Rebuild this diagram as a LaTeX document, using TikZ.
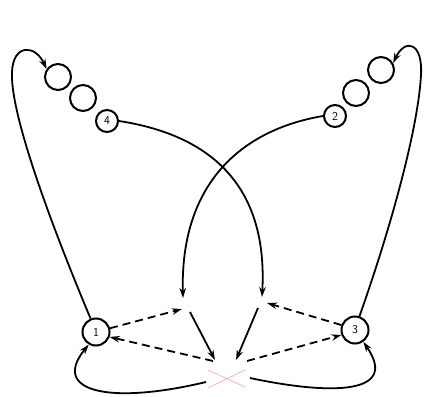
\documentclass[tikz,border=0pt]{standalone}
\usetikzlibrary{arrows.meta}
\begin{document}
\begin{tikzpicture}[x=1pt,y=-1pt,line width=1.8pt,
  >={Stealth[length=10pt,width=6.5pt]},
  ring/.style={circle,draw,line width=2pt,minimum size=26pt,inner sep=0pt},
  num/.style={ring,minimum size=22pt,font=\sffamily\large},
  dsh/.style={dashed,dash pattern=on 8pt off 5pt,line width=1.8pt},
  faint/.style={draw=red!30,line width=0.8pt}]
\useasboundingbox (0,0) rectangle (424,397);
% chains
\node[ring] (l1) at (58,77) {};
\node[ring] (l2) at (83,98) {};
\node[num] (n4) at (107,121) {4};
\node[ring] (r1) at (381,70) {};
\node[ring] (r2) at (356,93) {};
\node[num] (n2) at (335,116) {2};
\node[num,minimum size=27pt] (n1) at (96,332) {1};
\node[num,minimum size=27pt] (n3) at (355,330) {3};
% coordinates
\coordinate (tl) at (183,298);
\coordinate (tr) at (262,297);
\coordinate (ql) at (182,309);
\coordinate (qr) at (267,303);
\coordinate (sl) at (190,312);
\coordinate (sr) at (258,308);
\coordinate (el) at (215,360);
\coordinate (er) at (236,360);
\coordinate (dl) at (213,361);
\coordinate (dr) at (247,361);
\coordinate (bl) at (206,382);
\coordinate (br) at (250,378);
\coordinate (xa) at (208,370);
\coordinate (xb) at (245,387);
\coordinate (xc) at (245,370);
\coordinate (xd) at (208,388);
% crossing curves
\draw[->] (n4.east) .. controls (210,135) and (268,185) .. (tr);
\draw[->] (n2.west) .. controls (240,130) and (180,185) .. (tl);
% outer loops
\draw[->] (n1.112) .. controls (45,210) and (10,110) .. (12,72)
  .. controls (13,44) and (35,44) .. (l1.145);
\draw[->] (n3.72) .. controls (390,230) and (418,130) .. (421,75)
  .. controls (423,42) and (405,38) .. (r1.30);
% dashed arrows
\draw[dsh,->] (n1.15) -- (ql);
\draw[dsh,->] (n3.160) -- (qr);
\draw[dsh,->] (dl) -- (n1.-20);
\draw[dsh,->] (dr) -- (n3.200);
% solid short arrows
\draw[->] (sl) -- (el);
\draw[->] (sr) -- (er);
% bottom loops
\draw[->] (bl) .. controls (110,405) and (50,392) .. (n1.240);
\draw[->] (br) .. controls (330,395) and (400,395) .. (n3.-55);
% faint crossing
\draw[faint] (xa) -- (xb);
\draw[faint] (xc) -- (xd);
\end{tikzpicture}
\end{document}
